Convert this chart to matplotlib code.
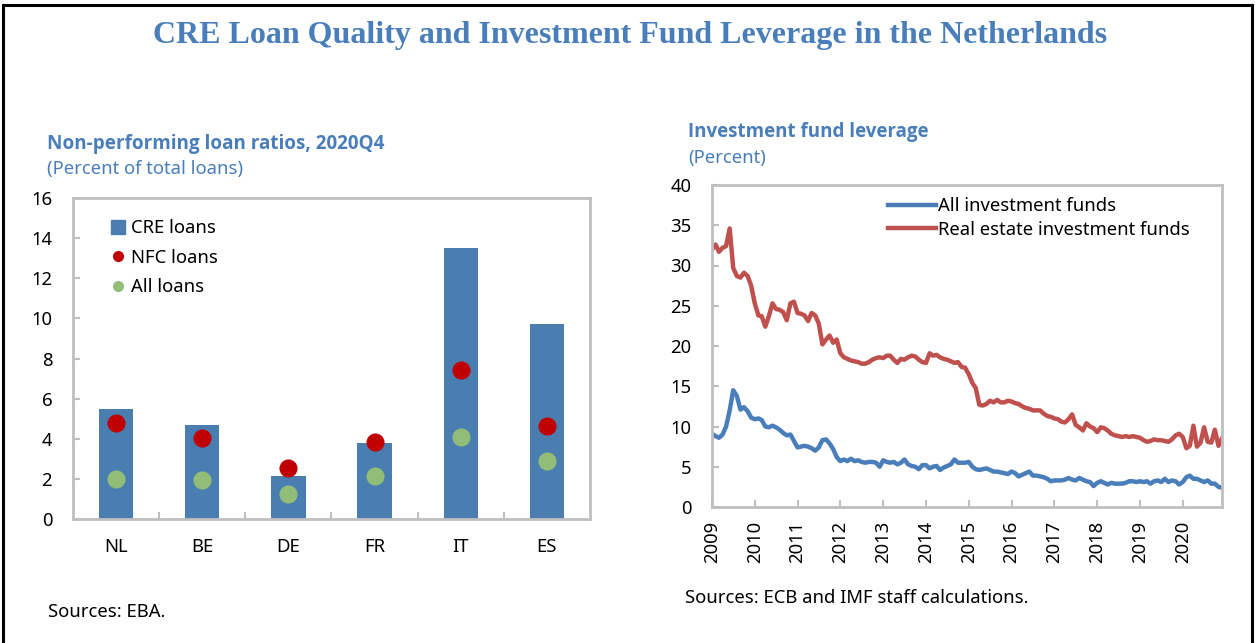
import numpy as np
import pandas as pd
import matplotlib
matplotlib.use("Agg")
import matplotlib.pyplot as plt
import matplotlib.dates as mdates
from matplotlib.patches import Rectangle
from matplotlib.lines import Line2D

plt.rcParams['font.family'] = ['Noto Sans', 'DejaVu Sans']

# left panel data
countries = ['NL', 'BE', 'DE', 'FR', 'IT', 'ES']
cre_loans = [5.5, 4.7, 2.15, 3.8, 13.5, 9.7]
nfc_loans = [4.8, 4.05, 2.55, 3.85, 7.45, 4.65]
all_loans = [2.0, 1.95, 1.25, 2.15, 4.1, 2.9]

# right panel data, monthly 2009-01 .. 2020-12
all_funds = [
    9.1, 8.8, 8.6, 9.0, 10.0, 12.0, 14.5, 13.8, 12.1, 12.4, 11.9, 11.1,
    10.9, 11.0, 10.8, 10.0, 9.9, 10.1, 9.9, 9.6, 9.2, 8.9, 9.0, 8.2,
    7.4, 7.5, 7.6, 7.5, 7.3, 7.0, 7.4, 8.3, 8.4, 7.9, 7.2, 6.2,
    5.7, 5.9, 5.7, 6.0, 5.7, 5.8, 5.6, 5.5, 5.6, 5.6, 5.5, 5.0,
    5.8, 5.6, 5.5, 5.6, 5.3, 5.5, 5.9, 5.3, 5.1, 5.0, 4.7, 5.2,
    5.2, 4.8, 5.0, 5.1, 4.6, 4.9, 5.1, 5.3, 5.9, 5.5, 5.5, 5.5,
    5.6, 5.0, 4.7, 4.6, 4.7, 4.8, 4.6, 4.4, 4.4, 4.3, 4.2, 4.1,
    4.4, 4.2, 3.8, 4.0, 4.2, 4.4, 3.9, 3.9, 3.8, 3.7, 3.5, 3.2,
    3.3, 3.3, 3.3, 3.4, 3.6, 3.4, 3.3, 3.6, 3.4, 3.2, 3.1, 2.6,
    3.0, 3.2, 3.0, 2.8, 3.0, 2.9, 2.9, 2.9, 3.0, 3.2, 3.2, 3.1,
    3.2, 3.1, 3.2, 2.9, 3.2, 3.3, 3.1, 3.5, 3.1, 3.3, 3.2, 2.8,
    3.1, 3.7, 3.9, 3.5, 3.5, 3.3, 3.1, 3.3, 2.9, 2.9, 2.5, 2.4,
]
real_estate_funds = [
    32.0, 32.6, 31.7, 32.2, 32.4, 34.6, 29.7, 28.7, 28.5, 29.1, 28.7, 27.5,
    25.3, 23.8, 23.7, 22.4, 23.7, 25.3, 24.6, 24.5, 24.2, 23.2, 25.3, 25.5,
    24.1, 24.0, 23.8, 23.1, 24.1, 23.8, 22.8, 20.2, 20.8, 21.3, 20.4, 20.8,
    19.1, 18.6, 18.4, 18.2, 18.1, 18.0, 17.8, 17.8, 18.0, 18.3, 18.5, 18.6,
    18.5, 18.8, 18.8, 18.3, 17.9, 18.4, 18.3, 18.6, 18.8, 18.7, 18.3, 18.0,
    17.9, 19.1, 18.8, 18.9, 18.6, 18.4, 18.3, 18.1, 17.9, 18.0, 17.4, 17.3,
    16.5, 15.4, 14.8, 12.7, 12.6, 12.8, 13.2, 13.0, 13.3, 13.0, 13.0, 13.2,
    13.1, 12.9, 12.8, 12.5, 12.3, 12.2, 12.0, 12.0, 12.0, 11.6, 11.3, 11.2,
    11.0, 10.9, 10.6, 10.5, 10.9, 11.5, 10.2, 9.9, 9.5, 10.4, 10.0, 9.8,
    9.3, 9.9, 9.8, 9.5, 9.1, 8.9, 8.8, 8.7, 8.8, 8.7, 8.8, 8.7,
    8.6, 8.3, 8.1, 8.2, 8.4, 8.3, 8.3, 8.2, 8.1, 8.4, 8.9, 9.1,
    8.7, 7.3, 7.6, 10.1, 7.5, 8.0, 9.9, 8.1, 8.0, 9.6, 7.6, 8.5,
]
months = pd.date_range('2009-01-01', periods=len(all_funds), freq='MS')

title_blue = '#4A7EBB'
bar_blue = '#4A7EB0'
grey = '#BFBFBF'
fs = 13.3
bold_font = ['Open Sans', 'DejaVu Sans']

fig = plt.figure(figsize=(12.55, 6.43), dpi=100)

# outer frame
fig.patches.append(Rectangle((0.0025, -0.01), 0.995, 1.003, transform=fig.transFigure,
                             fill=False, edgecolor='black', linewidth=2.2))

fig.text(0.502, 0.945, 'CRE Loan Quality and Investment Fund Leverage in the Netherlands',
         ha='center', va='center', fontsize=23, fontweight='bold',
         family='Liberation Serif', color=title_blue)

# ---- left panel ----
ax1 = fig.add_axes([73/1255, 1-519/643, (590-73)/1255, (519-198)/643])
x = np.arange(len(countries))
ax1.bar(x, cre_loans, width=0.4, color=bar_blue, label='CRE loans', zorder=2)
ax1.scatter(x, nfc_loans, s=170, color='#C00000', label='NFC loans', zorder=3, linewidths=0)
ax1.scatter(x, all_loans, s=170, color='#92BD78', label='All loans', zorder=3, linewidths=0)
ax1.set_xlim(-0.5, len(countries) - 0.5)
ax1.set_ylim(0, 16)
ax1.set_yticks(range(0, 17, 2))
ax1.set_xticks(x)
ax1.set_xticklabels(countries)
ax1.set_xticks(np.arange(0.5, len(countries) - 1, 1), minor=True)
ax1.tick_params(axis='x', which='major', length=0, pad=14, labelsize=fs)
ax1.tick_params(axis='x', which='minor', direction='in', length=5, color=grey, width=1.5)
ax1.tick_params(axis='y', direction='in', length=5, color=grey, width=1.5, labelsize=fs, pad=15)
for s in ax1.spines.values():
    s.set_color(grey)
    s.set_linewidth(2)
h = [Line2D([], [], marker='s', color=bar_blue, linestyle='none', markersize=10),
     Line2D([], [], marker='o', color='#C00000', linestyle='none', markersize=7),
     Line2D([], [], marker='o', color='#92BD78', linestyle='none', markersize=7)]
ax1.legend(h, ['CRE loans', 'NFC loans', 'All loans'], loc='upper left',
           bbox_to_anchor=(0.03, 0.985), frameon=False, fontsize=fs,
           handletextpad=0.0, labelspacing=0.62, handlelength=1.4)

fig.text(47/1255, 1-144/643, 'Non-performing loan ratios, 2020Q4', fontsize=13.6,
         fontweight='bold', family=bold_font, color=title_blue, va='center')
fig.text(47/1255, 1-169/643, '(Percent of total loans)', fontsize=fs,
         color=title_blue, va='center')
fig.text(48/1255, 1-612/643, 'Sources: EBA.', fontsize=fs, va='center')

# ---- right panel ----
ax2 = fig.add_axes([712/1255, 1-507/643, (1222-712)/1255, (507-185)/643])
ax2.plot(months, all_funds, color='#4A7EBB', linewidth=3.2, label='All investment funds')
ax2.plot(months, real_estate_funds, color='#C0504D', linewidth=3.2,
         label='Real estate investment funds')
ax2.set_xlim(months[0], months[-1])
ax2.set_ylim(0, 40)
ax2.set_yticks(range(0, 41, 5))
ax2.xaxis.set_major_locator(mdates.YearLocator())
ax2.xaxis.set_major_formatter(mdates.DateFormatter('%Y'))
ax2.tick_params(axis='x', direction='in', length=5, color=grey, width=1.5,
                labelsize=fs, rotation=90, pad=10)
ax2.tick_params(axis='y', direction='in', length=5, color=grey, width=1.5, labelsize=fs, pad=15)
for s in ax2.spines.values():
    s.set_color(grey)
    s.set_linewidth(2)
ax2.legend(loc='upper left', bbox_to_anchor=(0.33, 0.985), frameon=False, fontsize=fs,
           handlelength=2.6, handletextpad=0.1, labelspacing=0.3, borderaxespad=0)

fig.text(688/1255, 1-132/643, 'Investment fund leverage', fontsize=13.5,
         fontweight='bold', family=bold_font, color=title_blue, va='center')
fig.text(688/1255, 1-158/643, '(Percent)', fontsize=fs, color=title_blue, va='center')
fig.text(685/1255, 1-598/643, 'Sources: ECB and IMF staff calculations.',
         fontsize=fs, va='center')

fig.savefig('out.png', dpi=100)
